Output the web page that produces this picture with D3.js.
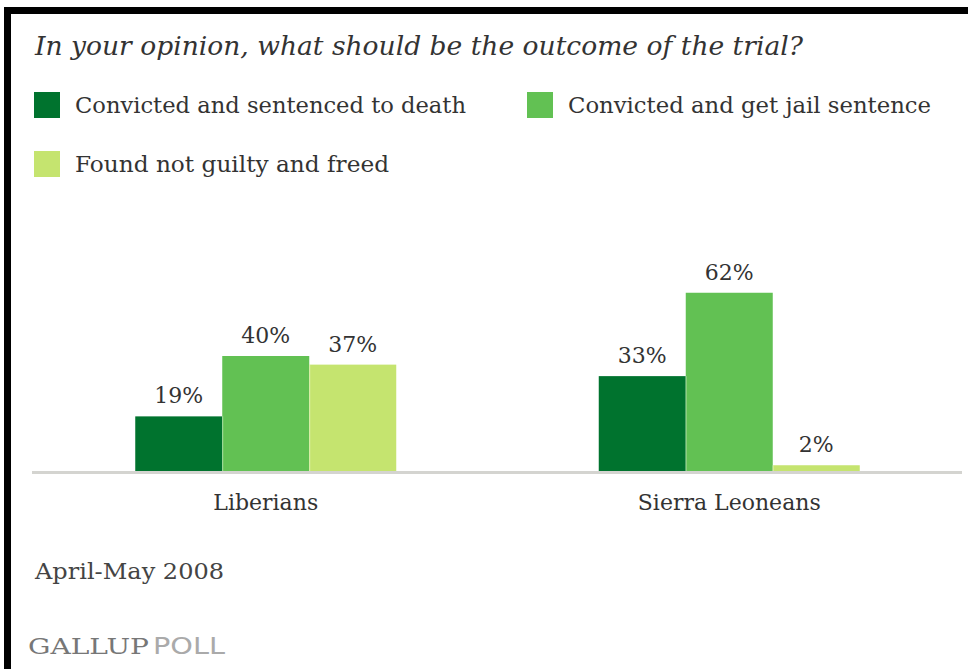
<!DOCTYPE html>
<html>
<head>
<meta charset="utf-8">
<script src="https://cdn.jsdelivr.net/npm/d3@7"></script>
<style>
  html, body { margin: 0; padding: 0; background: #fff; }
  svg { display: block; }
</style>
</head>
<body>
<svg id="chart" width="968" height="669"></svg>
<script>
const title = "In your opinion, what should be the outcome of the trial?";
const categories = ["Liberians", "Sierra Leoneans"];
const seriesNames = ["Convicted and sentenced to death", "Convicted and get jail sentence", "Found not guilty and freed"];
const deathValues = [19, 33];
const jailValues = [40, 62];
const freedValues = [37, 2];
const note = "April-May 2008";
const sourceA = "GALLUP";
const sourceB = "POLL";

const colors = ["#00732e", "#62c153", "#c5e46f"];
const seriesValues = [deathValues, jailValues, freedValues];

const svg = d3.select("#chart");
const serif = "'DejaVu Serif', 'Liberation Serif', serif";
const textColor = "#333";

svg.append("rect").attr("width", 968).attr("height", 669).attr("fill", "#fff");

// frame
svg.append("rect").attr("x", 4).attr("y", 7).attr("width", 964).attr("height", 7).attr("fill", "#000");
svg.append("rect").attr("x", 4).attr("y", 7).attr("width", 7).attr("height", 662).attr("fill", "#000");

function fit(sel, target) {
  sel.attr("textLength", target).attr("lengthAdjust", "spacingAndGlyphs");
  return sel;
}

// title
fit(svg.append("text")
  .attr("x", 35).attr("y", 55)
  .attr("font-family", serif).attr("font-style", "italic")
  .attr("font-size", 25.5).attr("fill", textColor)
  .text(title), 768);

// legend
const legendPos = [
  {x: 34, y: 92, w: 391},
  {x: 527, y: 92, w: 363},
  {x: 34, y: 151, w: 314}
];
seriesNames.forEach((name, i) => {
  const p = legendPos[i];
  svg.append("rect").attr("x", p.x).attr("y", p.y).attr("width", 26).attr("height", 26).attr("fill", colors[i]);
  fit(svg.append("text")
    .attr("x", p.x + 41).attr("y", p.y + 21)
    .attr("font-family", serif).attr("font-size", 22).attr("fill", textColor)
    .text(name), p.w);
});

// scales
const x0 = d3.scaleBand().domain(categories).range([34, 961]).padding(0);
const bw = x0.bandwidth();
const x1 = d3.scaleBand().domain(seriesNames).range([bw / 2 - 130.5, bw / 2 + 130.5]).padding(0);
const y = d3.scaleLinear().domain([0, 100]).range([471, 183.5]);

const data = [];
categories.forEach((c, ci) => {
  seriesNames.forEach((s, si) => {
    data.push({cat: c, series: s, si: si, value: seriesValues[si][ci]});
  });
});

const g = svg.append("g");
g.selectAll("rect.bar").data(data).enter().append("rect")
  .attr("class", "bar")
  .attr("x", d => x0(d.cat) + x1(d.series))
  .attr("y", d => y(d.value))
  .attr("width", x1.bandwidth())
  .attr("height", d => y(0) - y(d.value))
  .attr("fill", d => colors[d.si]);

// separators between adjacent bars (light edge)
g.selectAll("line.sep").data(data.filter(d => d.si > 0)).enter().append("line")
  .attr("x1", d => x0(d.cat) + x1(d.series) + 0.5)
  .attr("x2", d => x0(d.cat) + x1(d.series) + 0.5)
  .attr("y1", d => y(Math.min(d.value, seriesValues[d.si - 1][categories.indexOf(d.cat)])))
  .attr("y2", y(0))
  .attr("stroke", "#ffffff").attr("stroke-opacity", 0.35).attr("stroke-width", 1);

g.selectAll("text.val").data(data).enter().append("text")
  .attr("class", "val")
  .attr("x", d => x0(d.cat) + x1(d.series) + x1.bandwidth() / 2)
  .attr("y", d => y(d.value) - 13)
  .attr("text-anchor", "middle")
  .attr("font-family", serif).attr("font-size", 22).attr("fill", textColor)
  .text(d => d.value + "%");

// baseline axis
const axis = d3.axisBottom(x0).tickSize(0).tickPadding(0);
const axG = svg.append("g").attr("transform", `translate(0,${y(0) + 1.5})`).call(axis);
axG.select(".domain").remove();
axG.append("line").attr("x1", 32).attr("x2", 962).attr("y1", 0).attr("y2", 0)
  .attr("stroke", "#d4d4d0").attr("stroke-width", 3);
axG.selectAll(".tick text")
  .attr("y", 37).attr("dy", 0)
  .attr("font-family", serif).attr("font-size", 22).attr("fill", textColor);

// note
fit(svg.append("text")
  .attr("x", 35).attr("y", 579)
  .attr("font-family", serif).attr("font-size", 21.5).attr("fill", "#444")
  .text(note), 189);

// source
fit(svg.append("text")
  .attr("x", 28).attr("y", 654)
  .attr("font-family", serif).attr("font-size", 23).attr("fill", "#777")
  .text(sourceA), 121);
fit(svg.append("text")
  .attr("x", 153).attr("y", 654)
  .attr("font-family", "'DejaVu Sans', 'Liberation Sans', sans-serif").attr("font-size", 23).attr("fill", "#aaa")
  .text(sourceB), 72);
</script>
</body>
</html>
